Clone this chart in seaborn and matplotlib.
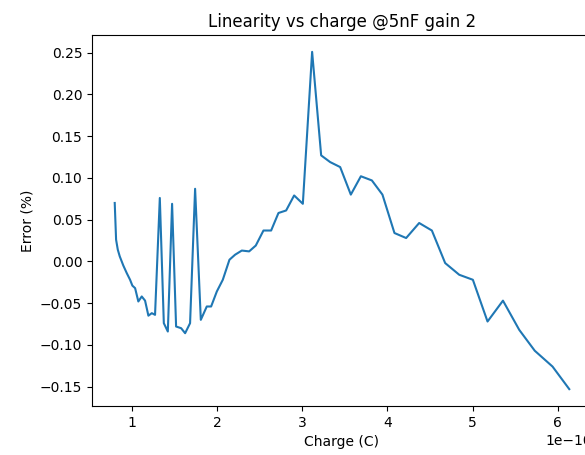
import matplotlib
matplotlib.use("Agg")
import matplotlib.pyplot as plt
import seaborn as sns
import numpy as np
import pandas as pd

charge_e10 = [0.800, 0.816, 0.836, 0.859, 0.901, 0.941, 0.980, 1.007, 1.039, 1.077,
              1.117, 1.156, 1.195, 1.235, 1.273, 1.329, 1.376, 1.423, 1.473, 1.520,
              1.579, 1.626, 1.684, 1.743, 1.810, 1.880, 1.931, 1.998, 2.068, 2.146,
              2.212, 2.291, 2.377, 2.455, 2.545, 2.635, 2.721, 2.811, 2.905, 3.007,
              3.116, 3.222, 3.327, 3.445, 3.570, 3.688, 3.817, 3.941, 4.082, 4.219,
              4.372, 4.521, 4.677, 4.842, 5.002, 5.174, 5.355, 5.546, 5.728, 5.937,
              6.133]
error_pct = [0.070, 0.026, 0.014, 0.006, -0.005, -0.014, -0.022, -0.029, -0.032, -0.048,
             -0.042, -0.047, -0.065, -0.062, -0.064, 0.076, -0.074, -0.084, 0.069, -0.078,
             -0.080, -0.086, -0.074, 0.087, -0.070, -0.054, -0.054, -0.036, -0.022, 0.002,
             0.008, 0.013, 0.012, 0.019, 0.037, 0.037, 0.058, 0.061, 0.079, 0.069,
             0.251, 0.127, 0.119, 0.113, 0.080, 0.102, 0.097, 0.080, 0.034, 0.028,
             0.046, 0.037, -0.002, -0.016, -0.022, -0.072, -0.047, -0.082, -0.107, -0.126,
             -0.153]

df = pd.DataFrame({"charge": np.array(charge_e10) * 1e-10, "error": error_pct})

fig = plt.figure(figsize=(5.85, 4.55), dpi=100)
ax = fig.add_axes([92 / 585, 49 / 455, 500 / 585, 371 / 455])
sns.lineplot(data=df, x="charge", y="error", ax=ax, color="#1f77b4", linewidth=1.5)
ax.set_title("Linearity vs charge @5nF gain 2")
ax.set_xlabel("Charge (C)")
ax.set_ylabel("Error (%)")
fig.savefig("out.png", dpi=100)
